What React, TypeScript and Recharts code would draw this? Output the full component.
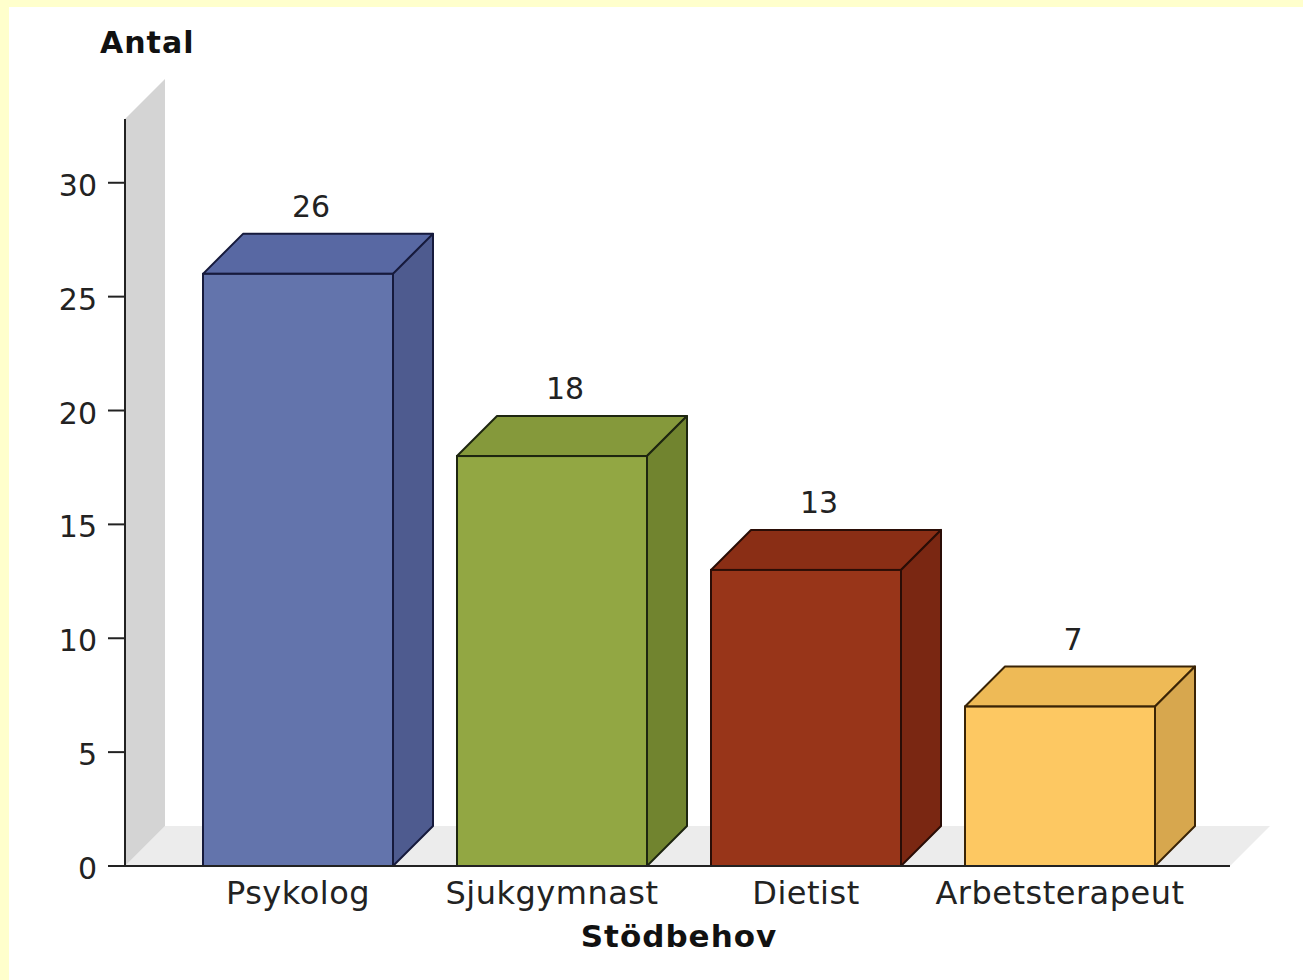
import React from 'react';
import { BarChart, Bar, XAxis, YAxis, LabelList, Label } from 'recharts';

const categories = ['Psykolog', 'Sjukgymnast', 'Dietist', 'Arbetsterapeut'];
const values = [26, 18, 13, 7];
const yTicks = [0, 5, 10, 15, 20, 25, 30];
const yMax = 32.8;

const palette = [
  { front: '#6374AC', top: '#5868A3', side: '#4E5B8F', stroke: '#161a3c' },
  { front: '#92A743', top: '#85993B', side: '#71842F', stroke: '#1e2610' },
  { front: '#983519', top: '#8A2E15', side: '#7A2712', stroke: '#2a0d06' },
  { front: '#FDC862', top: '#EEBA56', side: '#D7A74E', stroke: '#3a2406' },
];

const data = categories.map((name, i) => ({ name, value: values[i] }));

const W = 1303;
const H = 980;
const XAXIS_H = 30;
const MARGIN = { top: 119, right: 73, bottom: 84, left: 0 };
const YAXIS_W = 125;
const PL = MARGIN.left + YAXIS_W;
const PR = W - MARGIN.right;
const PT = MARGIN.top;
const PB = H - MARGIN.bottom - XAXIS_H;
const D = 40;
const FONT = '"DejaVu Sans", Verdana, sans-serif';
const TXT = '#222';

const Bar3D = (props: any) => {
  const { x, y, width, height, payload } = props;
  const i = categories.indexOf(payload?.name);
  const c = palette[i >= 0 ? i : 0];
  return (
    <g>
      <polygon
        points={`${x},${y} ${x + D},${y - D} ${x + width + D},${y - D} ${x + width},${y}`}
        fill={c.top}
        stroke={c.stroke}
        strokeWidth={2}
        strokeLinejoin="round"
      />
      <polygon
        points={`${x + width},${y} ${x + width + D},${y - D} ${x + width + D},${y + height - D} ${x + width},${y + height}`}
        fill={c.side}
        stroke={c.stroke}
        strokeWidth={2}
        strokeLinejoin="round"
      />
      <rect x={x} y={y} width={width} height={height} fill={c.front} stroke={c.stroke} strokeWidth={2} />
    </g>
  );
};

const ValueLabel = (props: any) => {
  const { x, y, width, value } = props;
  return (
    <text x={x + width / 2 + 13} y={y - 57} textAnchor="middle" fontFamily={FONT} fontSize={30} fill={TXT}>
      {value}
    </text>
  );
};

const XTick = (props: any) => {
  const { x, y, payload } = props;
  return (
    <text x={x} y={y + 38} textAnchor="middle" fontFamily={FONT} fontSize={32} letterSpacing={0.5} fill={TXT}>
      {payload.value}
    </text>
  );
};

const YTick = (props: any) => {
  const { x, y, payload } = props;
  return (
    <text x={x} y={y + 13} textAnchor="end" fontFamily={FONT} fontSize={30} fill={TXT}>
      {payload.value}
    </text>
  );
};

export default function App() {
  return (
    <div style={{ position: 'absolute', left: 0, top: 0, width: W, height: H, background: '#FFFFCC', overflow: 'hidden' }}>
      <div style={{ position: 'absolute', left: 9, top: 7, width: W - 9, height: H - 7, background: '#FFFFFF' }} />
      <svg width={W} height={H} style={{ position: 'absolute', left: 0, top: 0 }}>
        <polygon points={`${PL},${PB} ${PR},${PB} ${PR + D},${PB - D} ${PL + D},${PB - D}`} fill="#ECECEC" />
        <polygon points={`${PL},${PT} ${PL + D},${PT - D} ${PL + D},${PB - D} ${PL},${PB}`} fill="#D4D4D4" />
      </svg>
      <div style={{ position: 'absolute', left: 0, top: 0 }}>
        <BarChart width={W} height={H} data={data} margin={MARGIN}>
          <XAxis
            dataKey="name"
            height={XAXIS_H}
            interval={0}
            padding={{ left: 46, right: 43 }}
            tickLine={false}
            tickSize={0}
            tickMargin={0}
            tick={XTick}
            axisLine={{ stroke: TXT, strokeWidth: 2 }}
          >
            <Label
              content={() => (
                <text x={679} y={947} textAnchor="middle" fontFamily={FONT} fontSize={31} fontWeight="bold" letterSpacing={1} fill="#111">
                  Stödbehov
                </text>
              )}
            />
          </XAxis>
          <YAxis
            width={YAXIS_W}
            domain={[0, yMax]}
            ticks={yTicks}
            allowDataOverflow
            tickSize={17}
            tickMargin={11}
            tick={YTick}
            tickLine={{ stroke: TXT, strokeWidth: 2 }}
            axisLine={{ stroke: TXT, strokeWidth: 2 }}
          >
            <Label
              content={() => (
                <text x={100} y={53} textAnchor="start" fontFamily={FONT} fontSize={30} fontWeight="bold" letterSpacing={1} fill="#111">
                  Antal
                </text>
              )}
            />
          </YAxis>
          <Bar dataKey="value" barSize={190} shape={Bar3D} isAnimationActive={false}>
            <LabelList dataKey="value" content={ValueLabel} />
          </Bar>
        </BarChart>
      </div>
    </div>
  );
}
